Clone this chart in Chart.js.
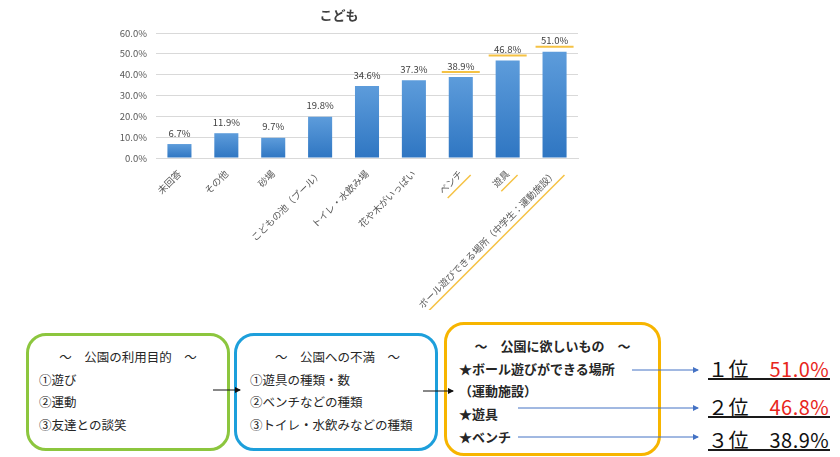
<!DOCTYPE html>
<html lang="ja">
<head>
<meta charset="utf-8">
<script src="https://cdn.jsdelivr.net/npm/chart.js@4.4.1/dist/chart.umd.min.js"></script>
<style>
  body { margin: 0; background: #fff; width: 840px; height: 457px; overflow: hidden; position: relative;
         font-family: 'Noto Sans CJK JP', sans-serif; color: #262626; }
  #chartWrap { position: absolute; left: 100px; top: 0; width: 500px; height: 310px; }
  .box { position: absolute; box-sizing: border-box; border: 3px solid; border-radius: 20px;
         font-size: 12.5px; line-height: 22.5px; }
  .box .head { text-align: center; white-space: pre; }
  #box1 { left: 26px; top: 333px; width: 204px; height: 118px; border-color: #8cc63e; padding: 10px 0 0 10px; }
  #box2 { left: 234px; top: 333px; width: 204px; height: 118px; border-color: #1d9fdb; padding: 10px 0 0 13px; }
  #box3 { left: 444px; top: 322px; width: 217px; height: 134px; border-color: #f7b500; padding: 10px 0 0 12px;
          font-weight: bold; font-size: 13px; line-height: 22.7px; }
  #box1 .head, #box2 .head { margin-left: -10px; }
  #box3 .head { margin-left: -12px; }
  .rank { position: absolute; left: 708px; width: 122px; height: 19px; font-size: 20px; line-height: 19px;
          letter-spacing: 0.5px; border-bottom: 2px solid #1a1a1a; white-space: pre; color: #111; }
  .rank .red { color: #e8261c; }
  svg { position: absolute; left: 0; top: 0; }
</style>
</head>
<body>
<div id="chartWrap"><canvas id="chart"></canvas></div>

<div class="box" id="box1">
  <div class="head">～　公園の利用目的　～</div>
  <div>①遊び</div>
  <div>②運動</div>
  <div>③友達との談笑</div>
</div>
<div class="box" id="box2">
  <div class="head">～　公園への不満　～</div>
  <div>①遊具の種類・数</div>
  <div>②ベンチなどの種類</div>
  <div>③トイレ・水飲みなどの種類</div>
</div>
<div class="box" id="box3">
  <div class="head">～　公園に欲しいもの　～</div>
  <div>★ボール遊びができる場所</div>
  <div>（運動施設）</div>
  <div>★遊具</div>
  <div>★ベンチ</div>
</div>

<div class="rank" style="top:359px">１位　<span class="red">51.0%</span></div>
<div class="rank" style="top:397px">２位　<span class="red">46.8%</span></div>
<div class="rank" style="top:430px">３位　38.9%</div>

<svg width="840" height="457">
  <defs>
    <marker id="blk" markerWidth="6" markerHeight="6" refX="5" refY="3" orient="auto">
      <path d="M0,0 L6,3 L0,6 z" fill="#111"/>
    </marker>
    <marker id="blu" markerWidth="6" markerHeight="6" refX="5" refY="3" orient="auto">
      <path d="M0,0 L6,3 L0,6 z" fill="#4472c4"/>
    </marker>
  </defs>
  <line x1="213" y1="390" x2="240" y2="390" stroke="#111" stroke-width="1" marker-end="url(#blk)"/>
  <line x1="423" y1="391" x2="453" y2="391" stroke="#111" stroke-width="1" marker-end="url(#blk)"/>
  <line x1="632" y1="370" x2="698" y2="370" stroke="#4472c4" stroke-width="1" marker-end="url(#blu)"/>
  <line x1="518" y1="408" x2="698" y2="408" stroke="#4472c4" stroke-width="1" marker-end="url(#blu)"/>
  <line x1="518" y1="437" x2="698" y2="437" stroke="#4472c4" stroke-width="1" marker-end="url(#blu)"/>
</svg>

<script>
const categories = ['未回答', 'その他', '砂場', 'こどもの池（プール）', 'トイレ・水飲み場',
  '花や木がいっぱい', 'ベンチ', '遊具', 'ボール遊びできる場所（中学生：運動施設）'];
const values = [6.7, 11.9, 9.7, 19.8, 34.6, 37.3, 38.9, 46.8, 51.0];
const highlighted = [6, 7, 8];
const yTicks = [0, 10, 20, 30, 40, 50, 60];

const labelFont = "9.5px 'Noto Sans CJK JP', sans-serif";

Chart.defaults.font.family = "'Noto Sans CJK JP', sans-serif";
Chart.defaults.color = '#595959';

const extras = {
  id: 'extras',
  afterDatasetsDraw(chart) {
    const ctx = chart.ctx;
    const meta = chart.getDatasetMeta(0);
    ctx.save();
    ctx.font = labelFont;
    ctx.textAlign = 'center';
    ctx.textBaseline = 'middle';
    meta.data.forEach((bar, i) => {
      ctx.fillStyle = '#404040';
      ctx.fillText(values[i].toFixed(1) + '%', bar.x, bar.y - 11);
      if (highlighted.includes(i)) {
        ctx.strokeStyle = '#f5c244';
        ctx.lineWidth = 2;
        ctx.beginPath();
        ctx.moveTo(bar.x - 19, bar.y - 5);
        ctx.lineTo(bar.x + 19, bar.y - 5);
        ctx.stroke();
      }
    });
    // underline the highlighted category labels
    const xs = chart.scales.x;
    const c = Math.SQRT1_2;
    const d = 12;
    ctx.strokeStyle = '#f5c244';
    ctx.lineWidth = 1.5;
    highlighted.forEach(i => {
      const w = ctx.measureText(categories[i]).width + 4;
      const ax = xs.getPixelForTick(i) + d * c + 2 * c;
      const ay = xs.top + 10 + d * c - 2 * c;
      ctx.beginPath();
      ctx.moveTo(ax, ay);
      ctx.lineTo(ax - w * c, ay + w * c);
      ctx.stroke();
    });
    ctx.restore();
  }
};

new Chart(document.getElementById('chart'), {
  type: 'bar',
  data: {
    labels: categories,
    datasets: [{
      data: values,
      barPercentage: 0.9,
      categoryPercentage: 0.57,
      backgroundColor: function(context) {
        const chart = context.chart;
        const area = chart.chartArea;
        if (!area) return '#4a8bd0';
        const top = chart.scales.y.getPixelForValue(context.raw);
        const g = chart.ctx.createLinearGradient(0, top, 0, area.bottom);
        g.addColorStop(0, '#5d9cdb');
        g.addColorStop(1, '#2f76c2');
        return g;
      }
    }]
  },
  options: {
    responsive: true,
    maintainAspectRatio: false,
    animation: false,
    layout: { padding: { left: 0, right: 22, top: 0, bottom: 0 } },
    plugins: {
      legend: { display: false },
      tooltip: { enabled: false },
      title: {
        display: true,
        text: 'こども',
        color: '#404040',
        font: { size: 13, weight: 'bold' },
        padding: { top: 7, bottom: 10.4 }
      }
    },
    scales: {
      x: {
        grid: { display: false, drawTicks: false },
        border: { color: '#d9d9d9' },
        ticks: {
          autoSkip: false,
          minRotation: 45,
          maxRotation: 45,
          padding: 10,
          font: { size: 9.5 },
          color: '#595959'
        },
        afterFit(scale) { scale.height = 152; }
      },
      y: {
        min: 0,
        max: 60,
        afterBuildTicks(scale) { scale.ticks = yTicks.map(v => ({ value: v })); },
        grid: { color: '#d9d9d9', drawTicks: false },
        border: { display: false },
        ticks: {
          padding: 9,
          font: { size: 9.5 },
          color: '#595959',
          callback: v => v.toFixed(1) + '%'
        },
        afterFit(scale) { scale.width = 56; }
      }
    }
  },
  plugins: [extras]
});
</script>
</body>
</html>
